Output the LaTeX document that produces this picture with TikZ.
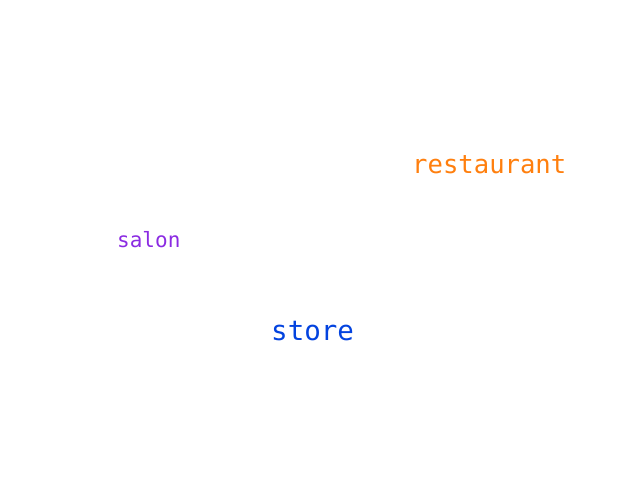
\documentclass[tikz,border=0pt]{standalone}
\usepackage{fontspec}
\newfontfamily\monofont{DejaVu Sans Mono}
\usepackage{xcolor}
\definecolor{wordorange}{HTML}{FF7F0E}
\definecolor{wordpurple}{HTML}{8B2BE2}
\definecolor{wordblue}{HTML}{0343DF}
\begin{document}
\begin{tikzpicture}[x=1pt,y=1pt]
\tikzstyle{every node}=[inner sep=0pt, anchor=base west, font=\monofont]
\useasboundingbox (0,0) rectangle (640,480);
\node [text=wordorange, font=\monofont\fontsize{25.6}{30}\selectfont] (restaurant) at (412,306.5) {restaurant};
\node [text=wordpurple, font=\monofont\fontsize{21}{25}\selectfont] (salon) at (117,233) {salon};
\node [text=wordblue, font=\monofont\fontsize{27.5}{32}\selectfont] (store) at (271,140) {store};
\end{tikzpicture}
\end{document}
